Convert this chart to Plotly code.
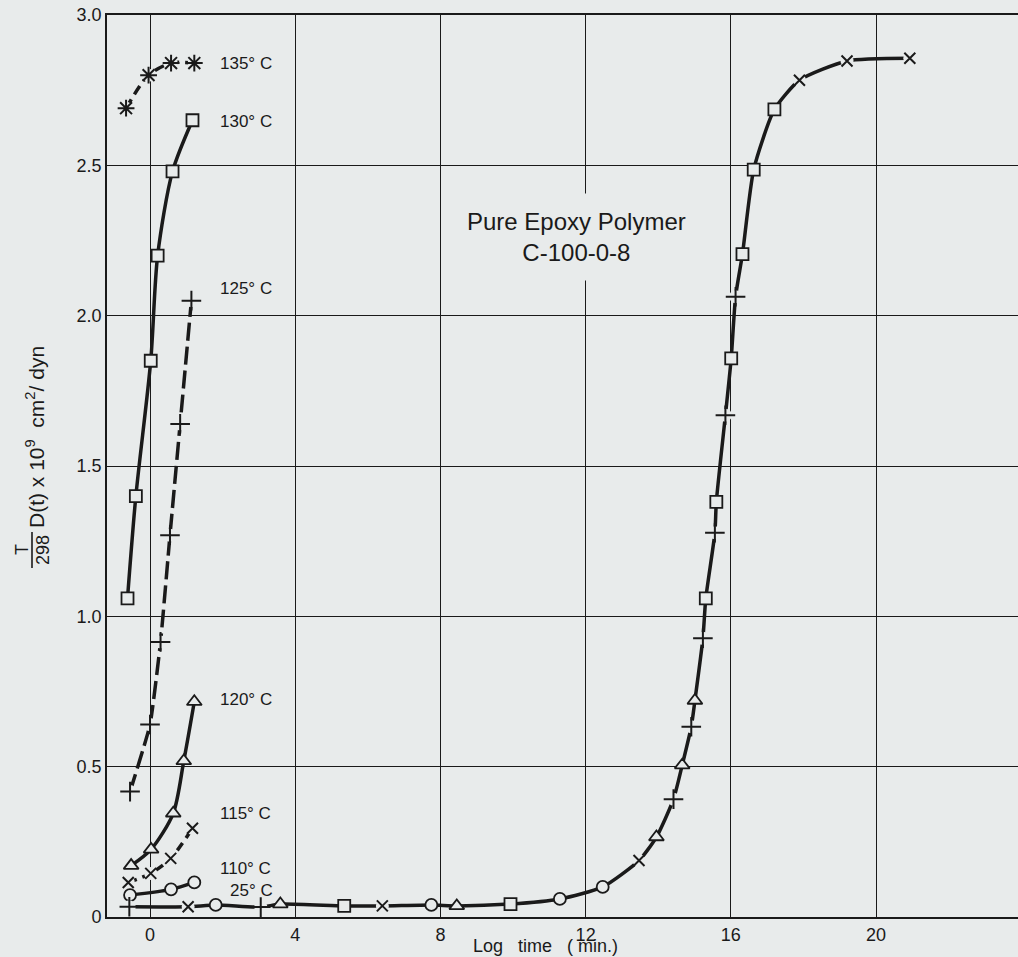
import plotly.graph_objects as go

# ---- isothermal creep compliance data (log time in min, T/298 * D(t) * 1e9) ----
t135_x = [-0.66, -0.04, 0.58, 1.22]
t135_y = [2.69, 2.80, 2.84, 2.84]

t130_x = [-0.62, -0.39, 0.02, 0.21, 0.62, 1.17]
t130_y = [1.06, 1.40, 1.85, 2.20, 2.48, 2.65]

t125_x = [-0.55, 0.00, 0.29, 0.55, 0.83, 1.14]
t125_y = [0.417, 0.64, 0.915, 1.27, 1.64, 2.05]

t120_x = [-0.52, 0.03, 0.64, 0.93, 1.22]
t120_y = [0.171, 0.225, 0.345, 0.519, 0.716]

t115_x = [-0.60, 0.02, 0.57, 1.17]
t115_y = [0.115, 0.145, 0.195, 0.295]

t110_x = [-0.55, 0.58, 1.22]
t110_y = [0.073, 0.092, 0.115]

# ---- master curve reduced to 25 °C ----
master_x = [-0.57, 1.05, 1.81, 3.05, 3.59, 5.35, 6.40, 7.75, 8.45, 9.93,
            11.29, 12.47, 13.47, 13.95, 14.42, 14.66, 14.91, 15.01, 15.23,
            15.31, 15.56, 15.60, 15.85, 16.01, 16.13, 16.32, 16.63, 17.20,
            17.89, 19.20, 20.93]
master_y = [0.034, 0.034, 0.040, 0.033, 0.043, 0.037, 0.037, 0.040, 0.037,
            0.043, 0.060, 0.100, 0.188, 0.266, 0.392, 0.505, 0.633, 0.720,
            0.927, 1.060, 1.278, 1.381, 1.669, 1.858, 2.063, 2.205, 2.486,
            2.686, 2.783, 2.847, 2.856]
master_mark = ["plus", "x", "circle", "plus", "triangle", "square", "x",
               "circle", "triangle", "square", "circle", "circle", "x",
               "triangle", "plus", "triangle", "plus", "triangle", "plus",
               "square", "plus", "square", "plus", "square", "plus", "square",
               "square", "square", "x", "x", "x"]

# ---- axis ticks and labels ----
x_ticks = [0, 4, 8, 12, 16, 20]
y_ticks = [0, 0.5, 1.0, 1.5, 2.0, 2.5, 3.0]
y_tick_text = ["0", "0.5", "1.0", "1.5", "2.0", "2.5", "3.0"]

curve_labels = ["135° C", "130° C", "125° C", "120° C", "115° C", "110° C", "25° C"]
label_x = [1.87, 1.87, 1.87, 1.87, 1.87, 1.87, 2.14]
label_y = [2.84, 2.647, 2.09, 0.725, 0.343, 0.16, 0.087]

# ---- styling ----
BG = "#e8ebeb"
INK = "#1a1a1a"
FONT = "Liberation Sans"

SYMBOL = {"plus": "cross-thin", "x": "x-thin", "circle": "circle",
          "square": "square", "triangle": "triangle-up", "star": "asterisk"}
SIZE = {"plus": 14, "x": 11, "circle": 12, "square": 12, "triangle": 13, "star": 14}
LINEAR = {"plus", "x", "star"}

fig = go.Figure()


def add_series(xs, ys, marks, dash="solid", smoothing=0.8):
    # connecting curve
    fig.add_trace(go.Scatter(
        x=xs, y=ys, mode="lines",
        line=dict(color=INK, width=3.5, dash=dash, shape="spline", smoothing=smoothing),
        hoverinfo="skip", showlegend=False))
    lin = [i for i, m in enumerate(marks) if m in LINEAR]
    fil = [i for i, m in enumerate(marks) if m not in LINEAR]
    if lin:
        # paper-coloured gaps in the curve around the line-only symbols
        fig.add_trace(go.Scatter(
            x=[xs[i] for i in lin], y=[ys[i] for i in lin], mode="markers",
            marker=dict(symbol="circle", size=13, color=BG, opacity=1,
                        line=dict(width=0)),
            hoverinfo="skip", showlegend=False))
        fig.add_trace(go.Scatter(
            x=[xs[i] for i in lin], y=[ys[i] for i in lin], mode="markers",
            marker=dict(symbol=[SYMBOL[marks[i]] for i in lin],
                        size=[SIZE[marks[i]] for i in lin], opacity=1,
                        color=INK, line=dict(color=INK, width=2)),
            showlegend=False))
    if fil:
        fig.add_trace(go.Scatter(
            x=[xs[i] for i in fil], y=[ys[i] for i in fil], mode="markers",
            marker=dict(symbol=[SYMBOL[marks[i]] for i in fil],
                        size=[SIZE[marks[i]] for i in fil], opacity=1,
                        color=BG, line=dict(color=INK, width=1.8)),
            showlegend=False))


add_series(t135_x, t135_y, ["star"] * len(t135_x), dash="10px,6px")
add_series(t130_x, t130_y, ["square"] * len(t130_x))
add_series(t125_x, t125_y, ["plus"] * len(t125_x), dash="18px,6px", smoothing=0.4)
add_series(t120_x, t120_y, ["triangle"] * len(t120_x))
add_series(t115_x, t115_y, ["x"] * len(t115_x), dash="9px,6px")
add_series(t110_x, t110_y, ["circle"] * len(t110_x))
add_series(master_x, master_y, master_mark, smoothing=0.6)

# temperature labels beside each isotherm
for txt, lx, ly in zip(curve_labels, label_x, label_y):
    fig.add_annotation(x=lx, y=ly, xref="x", yref="y", text=txt, showarrow=False,
                       xanchor="left", yanchor="middle",
                       font=dict(family=FONT, size=17, color=INK))

# ---- pixel helpers for text placed around the plot area ----
L, R, T, B = 107, 0, 15, 40
W, H = 1018, 957
PW, PH = W - L - R, H - T - B


def px(xp):
    return (xp - L) / PW


def py(yp):
    return (H - B - yp) / PH


# material name, boxed so the grid is interrupted behind it
fig.add_annotation(xref="paper", yref="paper", x=px(576), y=py(237),
                   text="Pure Epoxy Polymer<br>C-100-0-8", showarrow=False,
                   xanchor="center", yanchor="middle", align="center",
                   bgcolor=BG, borderpad=14,
                   font=dict(family=FONT, size=24, color=INK))

# x-axis title
fig.add_annotation(xref="paper", yref="paper", x=px(545), y=py(946),
                   text="Log   time   ( min.)", showarrow=False,
                   xanchor="center", yanchor="middle",
                   font=dict(family=FONT, size=18, color=INK))

# y-axis title: T/298 fraction followed by the compliance expression
fig.add_annotation(xref="paper", yref="paper", x=px(35), y=py(437),
                   text="D(t) x 10<sup>9</sup>  cm<sup>2</sup>/ dyn", showarrow=False,
                   textangle=-90, xanchor="center", yanchor="middle",
                   font=dict(family=FONT, size=21, color=INK))
fig.add_annotation(xref="paper", yref="paper", x=px(22), y=py(550),
                   text="T", showarrow=False, textangle=-90,
                   xanchor="center", yanchor="middle",
                   font=dict(family=FONT, size=18, color=INK))
fig.add_annotation(xref="paper", yref="paper", x=px(43), y=py(550),
                   text="298", showarrow=False, textangle=-90,
                   xanchor="center", yanchor="middle",
                   font=dict(family=FONT, size=18, color=INK))
fig.add_shape(type="line", xref="paper", yref="paper",
              x0=px(32), x1=px(32), y0=py(532), y1=py(568),
              line=dict(color=INK, width=1.6))

fig.update_xaxes(range=[-1.185, 23.91], tickvals=x_ticks,
                 showgrid=True, gridcolor=INK, gridwidth=1,
                 showline=True, linecolor=INK, linewidth=2.2, mirror=True,
                 zeroline=False, ticks="",
                 tickfont=dict(family=FONT, size=18, color=INK))
fig.update_yaxes(range=[0, 3.0], tickvals=y_ticks, ticktext=y_tick_text,
                 showgrid=True, gridcolor=INK, gridwidth=1,
                 showline=True, linecolor=INK, linewidth=1.8, mirror=False,
                 zeroline=False, ticks="",
                 tickfont=dict(family=FONT, size=18, color=INK))

fig.update_layout(width=W, height=H,
                  margin=dict(l=L, r=R, t=T, b=B),
                  paper_bgcolor=BG, plot_bgcolor=BG,
                  showlegend=False)

fig.write_html("out.html")
